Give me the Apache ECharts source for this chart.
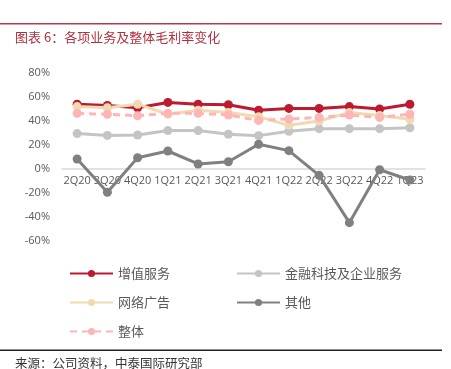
<!DOCTYPE html>
<html>
<head>
<meta charset="utf-8">
<script src="https://cdn.jsdelivr.net/npm/echarts@6/dist/echarts.min.js"></script>
<style>
  html, body { margin: 0; padding: 0; background: #fff; }
  #chart { width: 451px; height: 369px; }
</style>
</head>
<body>
<div id="chart"></div>
<script>
const quarters = ["2Q20", "3Q20", "4Q20", "1Q21", "2Q21", "3Q21", "4Q21", "1Q22", "2Q22", "3Q22", "4Q22", "1Q23"];
const valueAdded = [54, 53, 51, 55.5, 54, 53.5, 49, 50.5, 50.5, 52, 50, 54];
const fintech = [29.5, 28, 28.3, 32, 32, 29, 27.8, 31.4, 33.6, 33.6, 33.6, 34.4];
const onlineAds = [52, 51, 54, 45.6, 49, 47, 43.6, 36.4, 40, 47, 44.5, 41.4];
const others = [8.3, -19.4, 9.4, 15, 4.2, 6, 20.6, 15.3, -5.3, -44.7, -0.6, -9.2];
const overall = [46.4, 45.6, 44.4, 46.4, 46.4, 45, 40.5, 41.7, 43, 45, 43, 45.6];

const font = "'Noto Sans CJK SC', 'Noto Sans', sans-serif";
const labelColor = "#595959";

const mychart = echarts.init(document.getElementById("chart"));

const mkSeries = (name, data, color, dashed) => ({
  name: name,
  type: "line",
  data: data,
  symbol: "circle",
  symbolSize: 9,
  lineStyle: { color: color, width: 3, type: dashed ? [7, 5] : "solid" },
  itemStyle: { color: color },
  emphasis: { disabled: true }
});

const legendBase = {
  orient: "vertical",
  itemWidth: 43,
  itemHeight: 9,
  itemGap: 16,
  textStyle: { fontSize: 13, color: labelColor, fontFamily: font }
};

const option = {
  animation: false,
  textStyle: { fontFamily: font },
  grid: { left: 62, right: 26, top: 73, height: 168, containLabel: false },
  legend: [
    Object.assign({}, legendBase, { left: 64, top: 262, data: ["增值服务", "网络广告", "整体"] }),
    Object.assign({}, legendBase, { left: 231, top: 262, data: ["金融科技及企业服务", "其他"] })
  ],
  xAxis: {
    type: "category",
    data: quarters,
    boundaryGap: true,
    offset: -72,
    axisLine: { onZero: false, lineStyle: { color: "#d9d9d9", width: 1.5 } },
    axisTick: { show: false },
    axisLabel: { color: labelColor, fontSize: 11, margin: 6, interval: 0, fontFamily: "'Open Sans', sans-serif" }
  },
  yAxis: {
    type: "value",
    min: -60,
    max: 80,
    interval: 20,
    splitLine: { show: false },
    axisLine: { show: false },
    axisTick: { show: false },
    axisLabel: { color: labelColor, fontSize: 11, margin: 12, formatter: "{value}%", fontFamily: "'Open Sans', sans-serif" }
  },
  series: [
    mkSeries("增值服务", valueAdded, "#BC1A2E"),
    mkSeries("金融科技及企业服务", fintech, "#C4C4C4"),
    mkSeries("网络广告", onlineAds, "#F1DAB2"),
    mkSeries("其他", others, "#808080"),
    mkSeries("整体", overall, "#FDB5B5", true)
  ],
  graphic: [
    { type: "rect", shape: { x: 0, y: 23, width: 442, height: 1.5 }, style: { fill: "#B83A4A" } },
    { type: "text", left: 15, top: 31, style: { text: "图表 6：各项业务及整体毛利率变化", fill: "#B0303F", font: "13px " + font } },
    { type: "rect", shape: { x: 0, y: 349.5, width: 442, height: 1.5 }, style: { fill: "#222" } },
    { type: "text", left: 15, top: 357, style: { text: "来源：公司资料，中泰国际研究部", fill: "#333", font: "12.5px " + font } }
  ]
};
mychart.setOption(option);
</script>
</body>
</html>
